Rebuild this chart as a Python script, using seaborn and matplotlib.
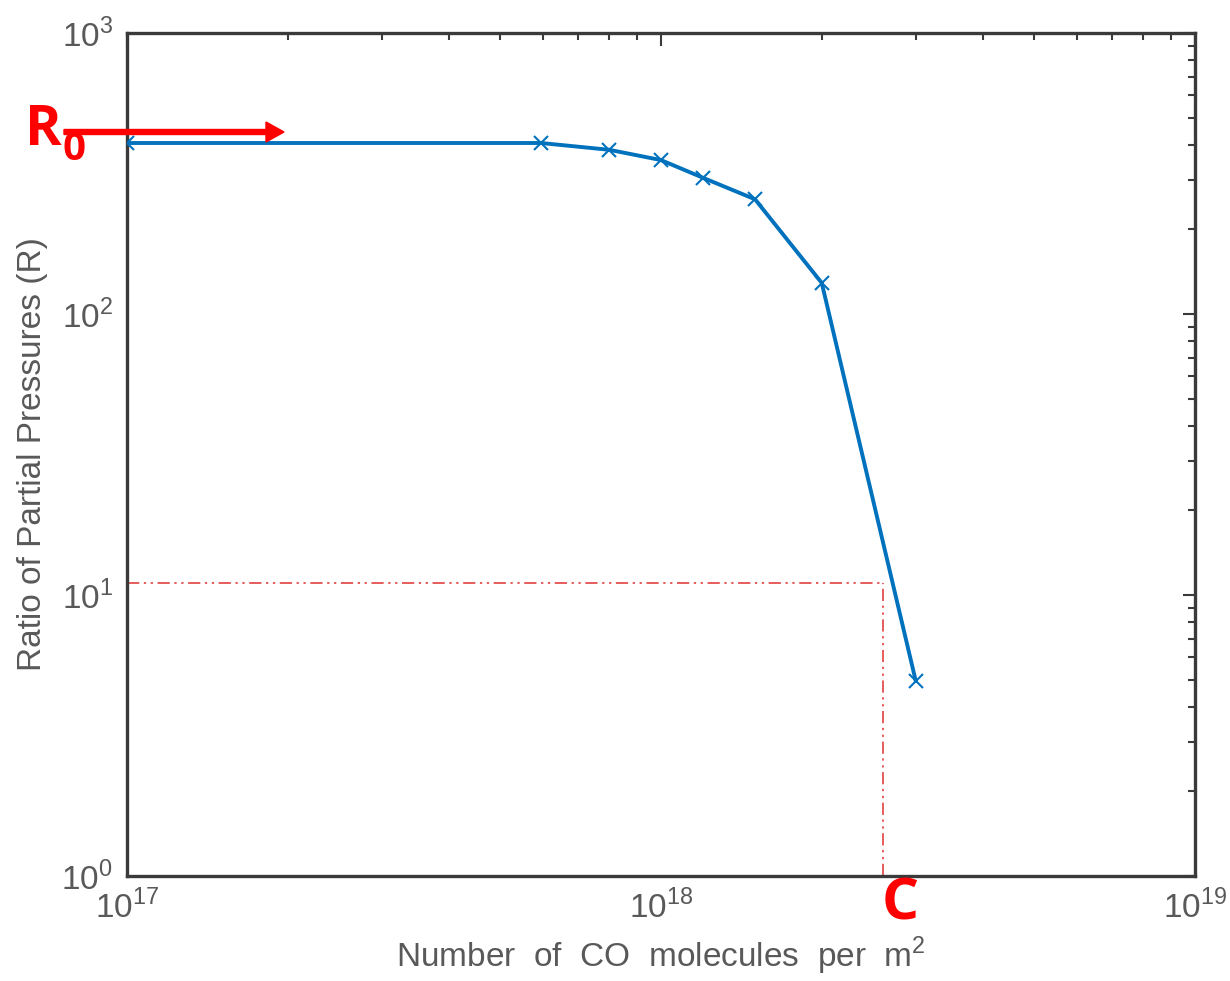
import numpy as np
import pandas as pd
import matplotlib
matplotlib.use('Agg')
import matplotlib.pyplot as plt
import seaborn as sns

sns.set_style('white')
plt.rcParams['font.family'] = ['Liberation Sans', 'DejaVu Sans']
plt.rcParams['mathtext.fontset'] = 'custom'
plt.rcParams['mathtext.rm'] = 'Liberation Sans'

# data
co_molecules = [1e17, 5.96e17, 8e17, 1.0e18, 1.2e18, 1.5e18, 2.0e18, 3.0e18]
ratio = [406, 406, 384, 353, 305, 256, 129, 4.94]
# marker for critical coverage
c_x = 2.6e18
c_y = 11.0

df = pd.DataFrame({'n': co_molecules, 'R': ratio})

grey = '#595959'
fig = plt.figure(figsize=(12.3, 9.81), dpi=100)
ax = fig.add_axes([127/1230, 1-876/981, (1195-127)/1230, (876-33)/981])

sns.lineplot(data=df, x='n', y='R', ax=ax, color='#0072BD', linewidth=2.8,
             marker='x', markersize=10, markeredgewidth=1.5,
             markeredgecolor='#0072BD', zorder=3)

ax.set_xscale('log')
ax.set_yscale('log')
ax.set_xlim(1e17, 1e19)
ax.set_ylim(1, 1e3)

# dash-dot guide lines
ax.plot([1e17, c_x], [c_y, c_y], color='#e03030', lw=1.1, ls=(0, (8, 3, 1.5, 3, 1.5, 3)), zorder=2)
ax.plot([c_x, c_x], [1, c_y], color='#e03030', lw=1.1, ls=(0, (8, 3, 1.5, 3, 1.5, 3)), zorder=2)

for s in ax.spines.values():
    s.set_color('#3a3a3a')
    s.set_linewidth(2.4)

ax.tick_params(which='both', direction='in', top=True, right=True,
               colors='#3a3a3a', labelcolor=grey, labelsize=24)
ax.tick_params(which='major', length=9, width=1.5, pad=10)
ax.tick_params(which='minor', length=5, width=1.5)
ax.set_xticks([1e17, 1e18, 1e19])
ax.set_xticklabels([r'$10^{17}$', r'$10^{18}$', r'$10^{19}$'])
ax.set_yticks([1, 10, 100, 1000])
ax.set_yticklabels([r'$10^{0}$', r'$10^{1}$', r'$10^{2}$', r'$10^{3}$'])

ax.set_xlabel(r'Number  of  CO  molecules  per  m$^2$', fontsize=24, color=grey, labelpad=7)
ax.set_ylabel('Ratio of Partial Pressures (R)', fontsize=24, color=grey, labelpad=10)

# annotations
fig.text(25/1230, 1-130/981, 'R', color='#ff0000', fontsize=40, fontweight='bold',
         va='center', ha='left', family=['Open Sans', 'DejaVu Sans'])
fig.text(62/1230, 1-150/981, '0', color='#ff0000', fontsize=29, fontweight='bold',
         va='center', ha='left', family=['Open Sans', 'DejaVu Sans'])
fig.add_artist(matplotlib.patches.FancyArrow(64/1230, 1-132/981, 220/1230, 0,
               width=5/981, head_width=20/981, head_length=18/1230,
               length_includes_head=True, color='#ff0000', transform=fig.transFigure))
fig.text(900/1230, 1-905/981, 'C', color='#ff0000', fontsize=42, fontweight='bold',
         va='center', ha='center', family=['Open Sans', 'DejaVu Sans'])

fig.savefig('out.png', dpi=100)
